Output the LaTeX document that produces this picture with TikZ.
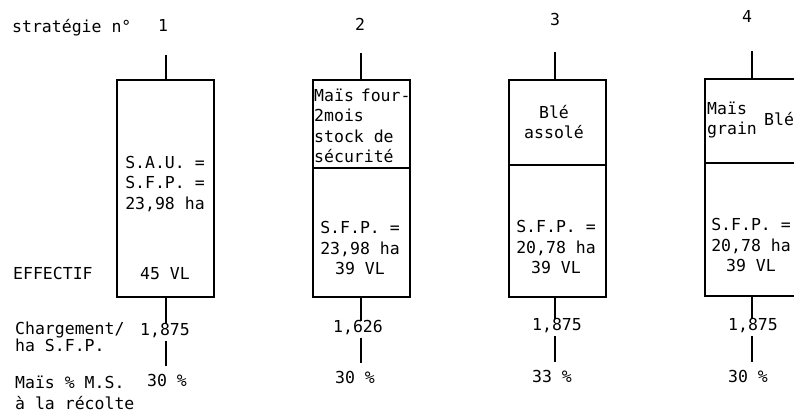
\documentclass[tikz,border=0pt]{standalone}
\usepackage{fontspec}
\setmainfont{DejaVu Sans Mono}
\begin{document}
\begin{tikzpicture}[x=1pt,y=-1pt,
  lbl/.style={inner sep=0pt, font=\fontsize{16.5}{20.5}\selectfont, text height=11pt, text depth=1pt},
  mlbl/.style={inner sep=0pt, font=\fontsize{16.5}{20.5}\selectfont},
  tight/.style={inner sep=0pt, font=\fontsize{16.5}{15}\selectfont},
  box/.style={draw, line width=1.6pt, minimum width=97pt, minimum height=217pt, inner sep=0pt, anchor=north west},
  stem/.style={line width=2pt},
  divider/.style={line width=1.1pt}]
\useasboundingbox (0,0) rectangle (794,412);
\fill[white] (0,0) rectangle (794,412);
\clip (0,0) rectangle (794,412);

% headings
\node[lbl, anchor=west] (title) at (12,28) {stratégie n°};
\node[lbl] (n1) at (163,27) {1};
\node[lbl] (n2) at (360,26) {2};
\node[lbl] (n3) at (555,21) {3};
\node[lbl] (n4) at (747,18) {4};

% boxes
\node[box] (b1) at (116,79) {};
\node[box] (b2) at (312,79) {};
\node[box] (b3) at (508,79) {};
\node[box] (b4) at (704,78) {};

% dividers
\coordinate (d2) at (312,168);
\coordinate (d3) at (508,165);
\coordinate (d4) at (704,163);
\draw[divider] (d2) -- (d2 -| b2.east);
\draw[divider] (d3) -- (d3 -| b3.east);
\draw[divider] (d4) -- (d4 -| b4.east);

% top stems
\coordinate (s1) at (166,55);
\coordinate (s2) at (361,53);
\coordinate (s3) at (555,52);
\coordinate (s4) at (752,51);
\draw[stem] (s1) -- (s1 |- b1.north);
\draw[stem] (s2) -- (s2 |- b2.north);
\draw[stem] (s3) -- (s3 |- b3.north);
\draw[stem] (s4) -- (s4 |- b4.north);

% box contents
\node[mlbl, align=left] (t1) at (165,184) {S.A.U. =\\S.F.P. =\\23,98 ha};
\node[lbl] (v1) at (165,274) {45 VL};
\node[mlbl, align=left, anchor=west] (u2) at (314,126) {Maïs\hspace{-3pt} four-\\2mois\\stock de\\sécurité};
\node[mlbl, align=center] (l2) at (360,248) {S.F.P. =\\23,98 ha\\39 VL};
\node[mlbl, align=center] (u3) at (554,122) {Blé\\assolé};
\node[mlbl, align=center] (l3) at (556,247) {S.F.P. =\\20,78 ha\\39 VL};
\node[mlbl, align=left, anchor=west] (u4) at (707,120) {Maïs\\grain};
\node[lbl, anchor=west] (w4) at (764,120) {Blé};
\node[mlbl, align=center] (l4) at (751,245) {S.F.P. =\\20,78 ha\\39 VL};

% left labels
\node[lbl, anchor=west] (eff) at (13,274) {EFFECTIF};
\node[tight, align=left, anchor=west] (charge) at (15,337) {Chargement/\\ha S.F.P.};
\node[mlbl, align=left, anchor=west] (mais) at (15,393) {Maïs \% M.S.\\à la récolte};

% lower values
\node[lbl] (c1) at (165,330) {1,875};
\node[lbl] (p1) at (167,381) {30 \%};
\node[lbl] (c2) at (358,327) {1,626};
\node[lbl] (p2) at (355,378) {30 \%};
\node[lbl] (c3) at (557,325) {1,875};
\node[lbl] (p3) at (552,377) {33 \%};
\node[lbl] (c4) at (753,325) {1,875};
\node[lbl] (p4) at (748,377) {30 \%};

% lower stems
\foreach \i in {1,2,3,4}{
  \draw[stem] (s\i |- b\i.south) -- (s\i |- c\i.north);
  \draw[stem, shorten <=5pt, shorten >=9pt] (s\i |- c\i.south) -- (s\i |- p\i.north);
}
\end{tikzpicture}
\end{document}
